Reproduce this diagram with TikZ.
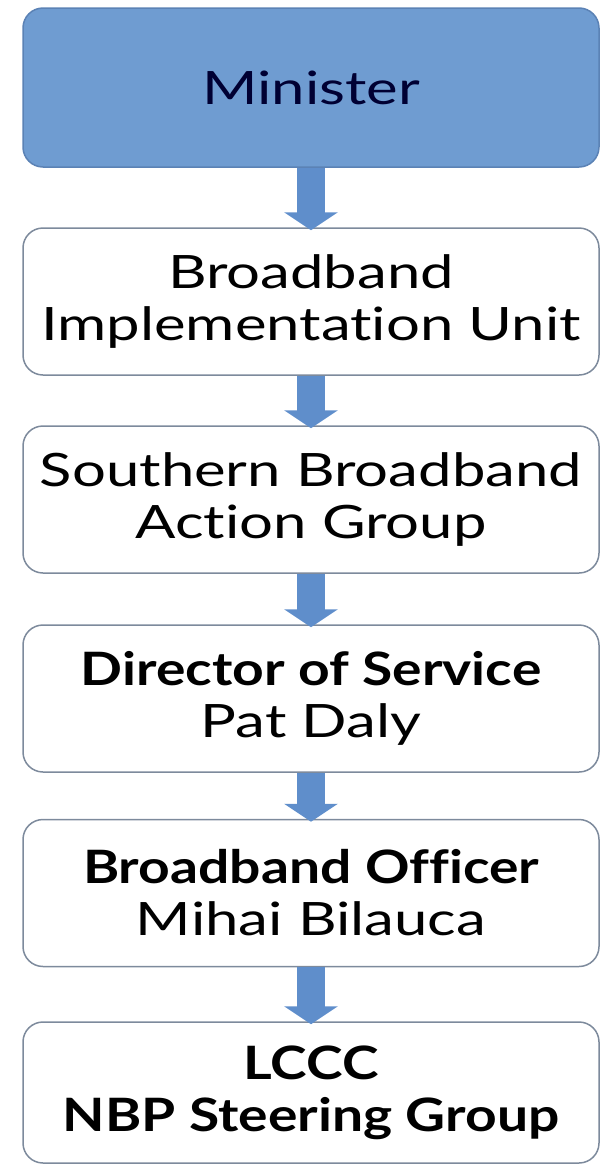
\documentclass[tikz,border=0pt]{standalone}
\usepackage{fontspec}
\setmainfont{Lato}[FakeStretch=1.3,Ligatures=NoCommon,
  BoldFeatures={FakeStretch=1.2}]
\usepackage{tikz}
\usetikzlibrary{arrows.meta,% fat block arrows
positioning}
\definecolor{ministerblue}{HTML}{6F9CD1}
\definecolor{ministeredge}{HTML}{5B82B5}
\definecolor{boxedge}{HTML}{7D8A9C}
\definecolor{arrowblue}{HTML}{5F8ECB}
\tikzset{every node/.style={font=\fontsize{46}{52}\selectfont},
  orgbox/.style={draw=boxedge,line width=1.5pt,fill=white,rounded corners=20pt,
    minimum width=576pt,minimum height=147pt,align=center,inner sep=0pt},
  topbox/.style={orgbox,draw=ministeredge,fill=ministerblue,minimum height=159pt,
    text=black!80!blue},
  downarrow/.style={arrowblue,line width=28pt,shorten >=-3pt,
    -{Triangle[width=53pt,length=18pt]}}}

\begin{document}
\begin{tikzpicture}[x=1pt,y=1pt]
  \useasboundingbox (0,0) rectangle (602,-1165);
  \node[topbox] (minister) at (311,-87.5) {Minister};
  \node[orgbox] (biu) at (311,-301.5) {Broadband\\Implementation Unit};
  \node[orgbox] (sbag) at (311,-499.5) {Southern Broadband\\Action Group};
  \node[orgbox] (dos) at (311,-698.5) {\textbf{Director of Service}\\Pat Daly};
  \node[orgbox] (bbo) at (311,-893) {\textbf{Broadband Officer}\\Mihai Bilauca};
  \node[orgbox,minimum height=141pt] (nbp) at (311,-1092.5)
    {\textbf{LCCC}\\\textbf{NBP Steering Group}};
  \draw[downarrow] (minister) -- (biu);
  \draw[downarrow] (biu) -- (sbag);
  \draw[downarrow] (sbag) -- (dos);
  \draw[downarrow] (dos) -- (bbo);
  \draw[downarrow] (bbo) -- (nbp);
\end{tikzpicture}
\end{document}
